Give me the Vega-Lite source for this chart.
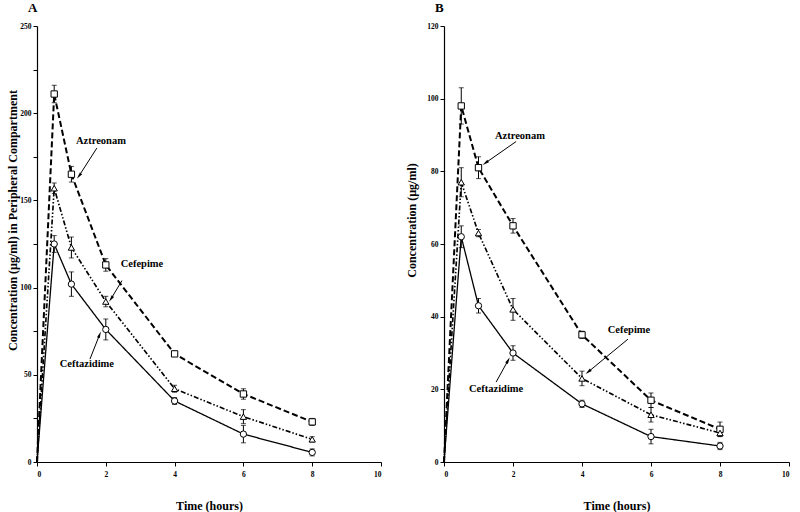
{
  "$schema": "https://vega.github.io/schema/vega-lite/v6.json",
  "background": "white",
  "padding": {"left": 6, "top": 2, "right": 0, "bottom": 0},
  "config": {
    "view": {"stroke": null},
    "font": "Liberation Serif",
    "axis": {"domainColor": "black", "tickColor": "black", "labelColor": "black", "titleColor": "black", "grid": false, "labelFont": "Liberation Serif", "titleFont": "Liberation Serif", "labelFontSize": 7.5, "labelFontWeight": "bold", "titleFontSize": 12, "titleFontWeight": "bold", "tickSize": 4, "domainWidth": 1.2, "tickWidth": 1},
    "title": {"font": "Liberation Serif", "fontSize": 13, "fontWeight": "bold", "anchor": "start", "frame": "group", "color": "black"},
    "concat": {"spacing": 23}
  },
  "datasets": {
    "pk": [
      {"panel": "A", "drug": "Aztreonam", "t": 0, "c": 0, "err": 0},
      {"panel": "A", "drug": "Aztreonam", "t": 0.5, "c": 211, "err": 5},
      {"panel": "A", "drug": "Aztreonam", "t": 1, "c": 165, "err": 4.5},
      {"panel": "A", "drug": "Aztreonam", "t": 2, "c": 113, "err": 3.6},
      {"panel": "A", "drug": "Aztreonam", "t": 4, "c": 62, "err": 1.5},
      {"panel": "A", "drug": "Aztreonam", "t": 6, "c": 39, "err": 3},
      {"panel": "A", "drug": "Aztreonam", "t": 8, "c": 23, "err": 2},
      {"panel": "A", "drug": "Cefepime", "t": 0, "c": 0, "err": 0},
      {"panel": "A", "drug": "Cefepime", "t": 0.5, "c": 157, "err": 3},
      {"panel": "A", "drug": "Cefepime", "t": 1, "c": 123, "err": 6},
      {"panel": "A", "drug": "Cefepime", "t": 2, "c": 92, "err": 3},
      {"panel": "A", "drug": "Cefepime", "t": 4, "c": 42, "err": 2},
      {"panel": "A", "drug": "Cefepime", "t": 6, "c": 26, "err": 4},
      {"panel": "A", "drug": "Cefepime", "t": 8, "c": 13, "err": 1.5},
      {"panel": "A", "drug": "Ceftazidime", "t": 0, "c": 0, "err": 0},
      {"panel": "A", "drug": "Ceftazidime", "t": 0.5, "c": 125, "err": 4.8},
      {"panel": "A", "drug": "Ceftazidime", "t": 1, "c": 102, "err": 7},
      {"panel": "A", "drug": "Ceftazidime", "t": 2, "c": 76, "err": 6},
      {"panel": "A", "drug": "Ceftazidime", "t": 4, "c": 35, "err": 2},
      {"panel": "A", "drug": "Ceftazidime", "t": 6, "c": 16, "err": 5},
      {"panel": "A", "drug": "Ceftazidime", "t": 8, "c": 5.5, "err": 2},
      {"panel": "B", "drug": "Aztreonam", "t": 0, "c": 0, "err": 0},
      {"panel": "B", "drug": "Aztreonam", "t": 0.5, "c": 98, "err": 5},
      {"panel": "B", "drug": "Aztreonam", "t": 1, "c": 81, "err": 3},
      {"panel": "B", "drug": "Aztreonam", "t": 2, "c": 65, "err": 2},
      {"panel": "B", "drug": "Aztreonam", "t": 4, "c": 35, "err": 1},
      {"panel": "B", "drug": "Aztreonam", "t": 6, "c": 17, "err": 2},
      {"panel": "B", "drug": "Aztreonam", "t": 8, "c": 9, "err": 2},
      {"panel": "B", "drug": "Cefepime", "t": 0, "c": 0, "err": 0},
      {"panel": "B", "drug": "Cefepime", "t": 0.5, "c": 77, "err": 4},
      {"panel": "B", "drug": "Cefepime", "t": 1, "c": 63, "err": 1},
      {"panel": "B", "drug": "Cefepime", "t": 2, "c": 42, "err": 3},
      {"panel": "B", "drug": "Cefepime", "t": 4, "c": 23, "err": 2},
      {"panel": "B", "drug": "Cefepime", "t": 6, "c": 13, "err": 2},
      {"panel": "B", "drug": "Cefepime", "t": 8, "c": 8, "err": 1},
      {"panel": "B", "drug": "Ceftazidime", "t": 0, "c": 0, "err": 0},
      {"panel": "B", "drug": "Ceftazidime", "t": 0.5, "c": 62, "err": 3},
      {"panel": "B", "drug": "Ceftazidime", "t": 1, "c": 43, "err": 2},
      {"panel": "B", "drug": "Ceftazidime", "t": 2, "c": 30, "err": 2},
      {"panel": "B", "drug": "Ceftazidime", "t": 4, "c": 16, "err": 1},
      {"panel": "B", "drug": "Ceftazidime", "t": 6, "c": 7, "err": 2},
      {"panel": "B", "drug": "Ceftazidime", "t": 8, "c": 4.4, "err": 1}
    ],
    "notes": [
      {"panel": "A", "label": "Aztreonam", "tx": 1.86, "ty": 184, "ax": 1.74, "ay": 180, "bx": 1.22, "by": 164, "angle": 218},
      {"panel": "A", "label": "Cefepime", "tx": 3.05, "ty": 113.5, "ax": 2.47, "ay": 104, "bx": 2.15, "by": 93.5, "angle": 215},
      {"panel": "A", "label": "Ceftazidime", "tx": 1.45, "ty": 56, "ax": 1.54, "ay": 59, "bx": 1.82, "by": 73, "angle": 22},
      {"panel": "B", "label": "Aztreonam", "tx": 2.2, "ty": 89.8, "ax": 2.09, "ay": 88.2, "bx": 1.2, "by": 82.3, "angle": 235},
      {"panel": "B", "label": "Cefepime", "tx": 5.36, "ty": 36.3, "ax": 5.33, "ay": 33.8, "bx": 4.18, "by": 24.8, "angle": 230},
      {"panel": "B", "label": "Ceftazidime", "tx": 1.51, "ty": 20, "ax": 1.51, "ay": 22, "bx": 1.86, "by": 28, "angle": 29}
    ]
  },
  "hconcat": [
    {
      "title": {"text": "A", "offset": 7, "dx": -9},
      "width": 344,
      "height": 436,
      "layer": [
        {
          "data": {"name": "pk"},
          "transform": [{"filter": "datum.panel == 'A'"}],
          "mark": {"type": "line", "color": "black"},
          "encoding": {
            "x": {"field": "t", "type": "quantitative", "scale": {"domain": [0, 10], "nice": false}, "axis": {"title": "Time (hours)", "values": [0,1,2,3,4,5,6,7,8,9,10], "labelExpr": "datum.value % 2 == 0 ? datum.label : ''", "titlePadding": 23, "labelPadding": 4}},
            "y": {"field": "c", "type": "quantitative", "scale": {"domain": [0, 250], "nice": false}, "axis": {"title": "Concentration (µg/ml) in Peripheral Compartment", "values": [0,25,50,75,100,125,150,175,200,225,250], "labelExpr": "datum.value % 50 == 0 ? datum.label : ''", "titleX": -25, "titleY": 194, "titleBaseline": "middle"}},
            "strokeDash": {"field": "drug", "type": "nominal", "scale": {"domain": ["Aztreonam", "Cefepime", "Ceftazidime"], "range": [[6, 3], [5, 2, 1.5, 2, 1.5, 2], [1, 0]]}, "legend": null},
            "strokeWidth": {"field": "drug", "type": "nominal", "scale": {"domain": ["Aztreonam", "Cefepime", "Ceftazidime"], "range": [2, 1.3, 1.8]}, "legend": null}
          }
        },
        {
          "data": {"name": "pk"},
          "transform": [{"filter": "datum.panel == 'A' && datum.err > 0"}],
          "mark": {"type": "errorbar", "color": "black", "thickness": 1, "ticks": {"size": 5, "color": "black"}},
          "encoding": {
            "x": {"field": "t", "type": "quantitative", "title": "Time (hours)"},
            "y": {"field": "c", "type": "quantitative", "title": "Concentration (µg/ml) in Peripheral Compartment"},
            "yError": {"field": "err"}
          }
        },
        {
          "data": {"name": "pk"},
          "transform": [{"filter": "datum.panel == 'A' && datum.t > 0"}],
          "mark": {"type": "point", "filled": true, "fill": "white", "stroke": "black", "strokeWidth": 1, "size": 40, "opacity": 1},
          "encoding": {
            "x": {"field": "t", "type": "quantitative"},
            "y": {"field": "c", "type": "quantitative"},
            "shape": {"field": "drug", "type": "nominal", "scale": {"domain": ["Aztreonam", "Cefepime", "Ceftazidime"], "range": ["square", "triangle-up", "circle"]}, "legend": null}
          }
        },
        {
          "data": {"name": "notes"},
          "transform": [{"filter": "datum.panel == 'A'"}],
          "mark": {"type": "text", "fontWeight": "bold", "fontSize": 10.5, "font": "Liberation Serif", "color": "black"},
          "encoding": {
            "x": {"field": "tx", "type": "quantitative"},
            "y": {"field": "ty", "type": "quantitative"},
            "text": {"field": "label"}
          }
        },
        {
          "data": {"name": "notes"},
          "transform": [{"filter": "datum.panel == 'A'"}],
          "mark": {"type": "rule", "color": "black", "strokeWidth": 1},
          "encoding": {
            "x": {"field": "ax", "type": "quantitative"},
            "y": {"field": "ay", "type": "quantitative"},
            "x2": {"field": "bx"},
            "y2": {"field": "by"}
          }
        },
        {
          "data": {"name": "notes"},
          "transform": [{"filter": "datum.panel == 'A'"}],
          "mark": {"type": "point", "shape": "M0,-1L0.45,1L-0.45,1Z", "filled": true, "color": "black", "size": 45, "opacity": 1},
          "encoding": {
            "x": {"field": "bx", "type": "quantitative"},
            "y": {"field": "by", "type": "quantitative"},
            "angle": {"field": "angle", "type": "quantitative", "scale": null}
          }
        }
      ]
    },
    {
      "title": {"text": "B", "offset": 7, "dx": -9},
      "width": 345,
      "height": 436,
      "layer": [
        {
          "data": {"name": "pk"},
          "transform": [{"filter": "datum.panel == 'B'"}],
          "mark": {"type": "line", "color": "black"},
          "encoding": {
            "x": {"field": "t", "type": "quantitative", "scale": {"domain": [0, 10], "nice": false}, "axis": {"title": "Time (hours)", "values": [0,1,2,3,4,5,6,7,8,9,10], "labelExpr": "datum.value % 2 == 0 ? datum.label : ''", "titlePadding": 23, "labelPadding": 4}},
            "y": {"field": "c", "type": "quantitative", "scale": {"domain": [0, 120], "nice": false}, "axis": {"title": "Concentration (µg/ml)", "values": [0,10,20,30,40,50,60,70,80,90,100,110,120], "labelExpr": "datum.value % 20 == 0 ? datum.label : ''", "titleX": -33, "titleY": 194, "titleBaseline": "middle"}},
            "strokeDash": {"field": "drug", "type": "nominal", "scale": {"domain": ["Aztreonam", "Cefepime", "Ceftazidime"], "range": [[6, 3], [5, 2, 1.5, 2, 1.5, 2], [1, 0]]}, "legend": null},
            "strokeWidth": {"field": "drug", "type": "nominal", "scale": {"domain": ["Aztreonam", "Cefepime", "Ceftazidime"], "range": [2, 1.3, 1.8]}, "legend": null}
          }
        },
        {
          "data": {"name": "pk"},
          "transform": [{"filter": "datum.panel == 'B' && datum.err > 0"}],
          "mark": {"type": "errorbar", "color": "black", "thickness": 1, "ticks": {"size": 5, "color": "black"}},
          "encoding": {
            "x": {"field": "t", "type": "quantitative", "title": "Time (hours)"},
            "y": {"field": "c", "type": "quantitative", "title": "Concentration (µg/ml)"},
            "yError": {"field": "err"}
          }
        },
        {
          "data": {"name": "pk"},
          "transform": [{"filter": "datum.panel == 'B' && datum.t > 0"}],
          "mark": {"type": "point", "filled": true, "fill": "white", "stroke": "black", "strokeWidth": 1, "size": 40, "opacity": 1},
          "encoding": {
            "x": {"field": "t", "type": "quantitative"},
            "y": {"field": "c", "type": "quantitative"},
            "shape": {"field": "drug", "type": "nominal", "scale": {"domain": ["Aztreonam", "Cefepime", "Ceftazidime"], "range": ["square", "triangle-up", "circle"]}, "legend": null}
          }
        },
        {
          "data": {"name": "notes"},
          "transform": [{"filter": "datum.panel == 'B'"}],
          "mark": {"type": "text", "fontWeight": "bold", "fontSize": 10.5, "font": "Liberation Serif", "color": "black"},
          "encoding": {
            "x": {"field": "tx", "type": "quantitative"},
            "y": {"field": "ty", "type": "quantitative"},
            "text": {"field": "label"}
          }
        },
        {
          "data": {"name": "notes"},
          "transform": [{"filter": "datum.panel == 'B'"}],
          "mark": {"type": "rule", "color": "black", "strokeWidth": 1},
          "encoding": {
            "x": {"field": "ax", "type": "quantitative"},
            "y": {"field": "ay", "type": "quantitative"},
            "x2": {"field": "bx"},
            "y2": {"field": "by"}
          }
        },
        {
          "data": {"name": "notes"},
          "transform": [{"filter": "datum.panel == 'B'"}],
          "mark": {"type": "point", "shape": "M0,-1L0.45,1L-0.45,1Z", "filled": true, "color": "black", "size": 45, "opacity": 1},
          "encoding": {
            "x": {"field": "bx", "type": "quantitative"},
            "y": {"field": "by", "type": "quantitative"},
            "angle": {"field": "angle", "type": "quantitative", "scale": null}
          }
        }
      ]
    }
  ]
}
